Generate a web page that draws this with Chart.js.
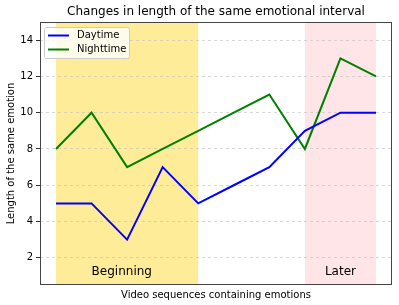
<!DOCTYPE html>
<html><head><meta charset="utf-8">
<script src="https://cdn.jsdelivr.net/npm/chart.js@4/dist/chart.umd.min.js"></script>
<style>html,body{margin:0;padding:0;background:#fff}#wrap{width:399px;height:305px}</style>
</head><body><div id="wrap"><canvas id="c" width="399" height="305"></canvas></div>
<script>
const xIndex = [0,1,2,3,4,5,6,7,8,9];
const daytime = [5,5,3,7,5,6,7,9,10,10];
const nighttime = [8,10,7,8,9,10,11,8,13,12];
const yTicks = [2,4,6,8,10,12,14];
const regions = [
  {from:0, to:4, label:'Beginning', at:1.85, color:'rgba(255,236,153,1)'},
  {from:7, to:9, label:'Later', at:8, color:'rgba(255,228,232,1)'}
];
const chartTitle = 'Changes in length of the same emotional interval';
const FONT = "'DejaVu Sans', sans-serif";

const regionPlugin = {
  id:'regions',
  beforeDraw(chart){
    const {ctx, chartArea:a, scales:{x,y}} = chart;
    ctx.save();
    regions.forEach(r=>{
      const x0 = x.getPixelForValue(r.from), x1 = x.getPixelForValue(r.to);
      ctx.fillStyle = r.color;
      ctx.fillRect(x0, a.top, x1-x0, a.bottom-a.top);
    });
    ctx.font = "12px " + FONT;
    ctx.fillStyle = '#000';
    ctx.textAlign = 'center';
    ctx.textBaseline = 'middle';
    ctx.fillText(chartTitle, (a.left+a.right)/2, 12);
    ctx.restore();
  },
  afterDatasetsDraw(chart){
    const {ctx, chartArea:a, scales:{x,y}} = chart;
    ctx.save();
    ctx.font = "12px " + FONT;
    ctx.fillStyle = '#000';
    ctx.textAlign = 'center';
    ctx.textBaseline = 'middle';
    regions.forEach(r=>{
      ctx.fillText(r.label, x.getPixelForValue(r.at), y.getPixelForValue(1.25));
    });
    // frame
    ctx.strokeStyle = '#444';
    ctx.lineWidth = 1;
    ctx.strokeRect(Math.round(a.left)+0.5, Math.round(a.top)+0.5, Math.round(a.right-a.left)-1, Math.round(a.bottom-a.top)-1);
    // legend
    const lx = 44.5, ly = 27.5, lw = 85, lh = 31;
    ctx.fillStyle = 'rgba(255,255,255,0.8)';
    ctx.strokeStyle = '#ccc';
    ctx.beginPath();
    if (ctx.roundRect) ctx.roundRect(lx, ly, lw, lh, 2); else ctx.rect(lx,ly,lw,lh);
    ctx.fill(); ctx.stroke();
    ctx.font = "10px " + FONT;
    ctx.textAlign = 'left';
    chart.data.datasets.forEach((ds,i)=>{
      const yy = 35.5 + i*14;
      ctx.strokeStyle = ds.borderColor; ctx.lineWidth = 2;
      ctx.beginPath(); ctx.moveTo(48, yy); ctx.lineTo(69, yy); ctx.stroke();
      ctx.fillStyle = '#000';
      ctx.fillText(ds.label, 77, yy);
    });
    ctx.restore();
  }
};

new Chart(document.getElementById('c'), {
  type:'line',
  data:{
    datasets:[
      {label:'Daytime', data:xIndex.map((v,i)=>({x:v,y:daytime[i]})), borderColor:'#0000ff', borderWidth:2, pointRadius:0, tension:0, fill:false},
      {label:'Nighttime', data:xIndex.map((v,i)=>({x:v,y:nighttime[i]})), borderColor:'#008000', borderWidth:2, pointRadius:0, tension:0, fill:false}
    ]
  },
  options:{
    responsive:false, animation:false, devicePixelRatio:1,
    layout:{padding:{left:0,right:7,top:22,bottom:0}},
    plugins:{ legend:{display:false}, tooltip:{enabled:false}, title:{display:false} },
    scales:{
      x:{type:'linear', min:-0.45, max:9.45,
        grid:{display:false, drawTicks:false},
        border:{display:false},
        ticks:{display:false},
        title:{display:true, text:'Video sequences containing emotions', color:'#000', font:{family:FONT,size:10}, padding:{top:0,bottom:4}},
        afterFit(s){ s.height = 20; }
      },
      y:{type:'linear', min:0.5, max:15,
        afterBuildTicks(s){ s.ticks = yTicks.map(v=>({value:v})); },
        grid:{color:'rgba(190,190,190,0.6)', tickColor:'#333', tickLength:4, tickBorderDash:[0,0]},
        border:{display:false, dash:[3,3]},
        ticks:{color:'#000', font:{family:FONT,size:10}, padding:3},
        title:{display:true, text:'Length of the same emotion', color:'#000', font:{family:FONT,size:10}, padding:{top:5,bottom:0}},
        afterFit(s){ s.width = 40; }
      }
    }
  },
  plugins:[regionPlugin]
});
</script></body></html>
